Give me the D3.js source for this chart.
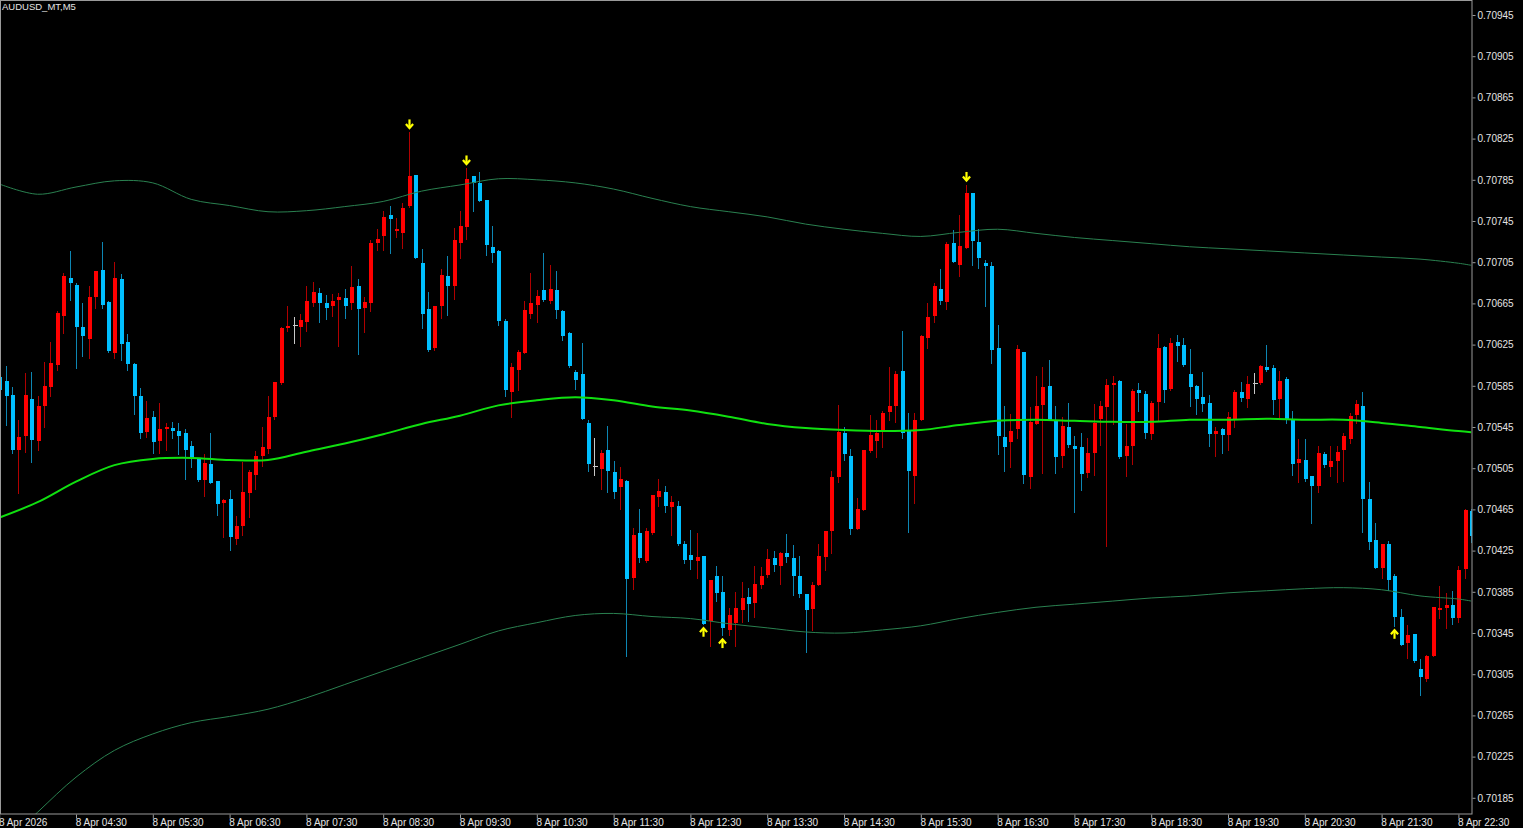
<!DOCTYPE html>
<html><head><meta charset="utf-8">
<script src="https://cdn.jsdelivr.net/npm/d3@7"></script>
<style>html,body{margin:0;padding:0;background:#000;overflow:hidden}svg{display:block}</style>
</head><body>
<svg id="chart" width="1523" height="828"></svg>
<script>
// ---------- DATA (AUDUSD M5, 8 Apr 2026, first bar 03:30, one row per hour) ----------
const symbolTitle = "AUDUSD_MT,M5";
const firstBarTime = "2026-04-08T03:30:00";
const barMinutes = 5;

const open = [
0.70594,0.70590,0.70576,0.70523,0.70536,0.70572,0.70531,0.70565,0.70584,0.70605,0.70653,0.70690,
0.70683,0.70642,0.70630,0.70671,0.70697,0.70666,0.70617,0.70689,0.70628,0.70606,0.70575,0.70540,
0.70555,0.70531,0.70543,0.70544,0.70541,0.70539,0.70527,0.70514,0.70494,0.70509,0.70493,0.70471,
0.70475,0.70436,0.70449,0.70481,0.70498,0.70517,0.70524,0.70555,0.70588,0.70641,0.70644,0.70642,
0.70647,0.70665,0.70675,0.70665,0.70662,0.70668,0.70670,0.70665,0.70682,0.70661,0.70665,0.70724,
0.70730,0.70751,0.70735,0.70733,0.70760,0.70790,0.70704,0.70660,0.70622,0.70662,0.70692,0.70682,
0.70724,0.70739,0.70789,0.70782,0.70765,0.70720,0.70716,0.70648,0.70579,0.70600,0.70617,0.70655,
0.70663,0.70678,0.70667,0.70678,0.70658,0.70636,0.70598,0.70596,0.70549,0.70507,0.70504,0.70523,
0.70501,0.70487,0.70493,0.70398,0.70442,0.70415,0.70442,0.70477,0.70482,0.70467,0.70468,0.70431,
0.70421,0.70415,0.70420,0.70357,0.70400,0.70385,0.70348,0.70355,0.70367,0.70380,0.70374,0.70392,
0.70401,0.70418,0.70410,0.70423,0.70418,0.70400,0.70383,0.70368,0.70392,0.70419,0.70444,0.70496,
0.70539,0.70517,0.70446,0.70464,0.70522,0.70531,0.70540,0.70560,0.70565,0.70599,0.70541,0.70497,
0.70552,0.70631,0.70653,0.70679,0.70666,0.70724,0.70702,0.70719,0.70772,0.70725,0.70704,0.70701,
0.70622,0.70535,0.70530,0.70543,0.70618,0.70496,0.70548,0.70566,0.70585,0.70552,0.70517,0.70545,
0.70527,0.70526,0.70500,0.70520,0.70553,0.70564,0.70586,0.70590,0.70517,0.70527,0.70581,0.70577,
0.70538,0.70569,0.70623,0.70582,0.70628,0.70625,0.70596,0.70585,0.70574,0.70568,0.70538,0.70543,
0.70537,0.70553,0.70579,0.70572,0.70588,0.70588,0.70603,0.70602,0.70572,0.70592,0.70553,0.70510,
0.70513,0.70497,0.70488,0.70519,0.70506,0.70512,0.70523,0.70533,0.70557,0.70565,0.70475,0.70435,
0.70408,0.70431,0.70400,0.70361,0.70335,0.70344,0.70310,0.70300,0.70323,0.70367,0.70369,0.70372,
0.70360,0.70407,0.70463];

const high = [
0.70595,0.70604,0.70584,0.70552,0.70597,0.70598,0.70575,0.70608,0.70628,0.70658,0.70695,0.70716,
0.70685,0.70665,0.70682,0.70696,0.70725,0.70667,0.70705,0.70694,0.70635,0.70607,0.70583,0.70570,
0.70561,0.70568,0.70549,0.70550,0.70549,0.70543,0.70531,0.70515,0.70519,0.70539,0.70493,0.70475,
0.70484,0.70459,0.70511,0.70503,0.70522,0.70545,0.70575,0.70589,0.70642,0.70662,0.70652,0.70655,
0.70682,0.70686,0.70680,0.70673,0.70674,0.70675,0.70679,0.70701,0.70689,0.70671,0.70727,0.70737,
0.70755,0.70760,0.70748,0.70762,0.70831,0.70790,0.70718,0.70676,0.70662,0.70698,0.70711,0.70738,
0.70755,0.70796,0.70789,0.70793,0.70765,0.70740,0.70717,0.70650,0.70607,0.70620,0.70667,0.70695,
0.70678,0.70714,0.70702,0.70696,0.70659,0.70637,0.70600,0.70627,0.70552,0.70534,0.70523,0.70546,
0.70512,0.70506,0.70494,0.70447,0.70465,0.70447,0.70479,0.70495,0.70488,0.70478,0.70473,0.70434,
0.70445,0.70442,0.70420,0.70396,0.70410,0.70400,0.70369,0.70385,0.70395,0.70389,0.70410,0.70409,
0.70427,0.70425,0.70424,0.70441,0.70430,0.70420,0.70383,0.70395,0.70431,0.70444,0.70502,0.70566,
0.70545,0.70524,0.70476,0.70523,0.70557,0.70552,0.70561,0.70603,0.70599,0.70638,0.70559,0.70559,
0.70634,0.70665,0.70685,0.70698,0.70725,0.70736,0.70751,0.70780,0.70772,0.70737,0.70707,0.70705,
0.70644,0.70565,0.70558,0.70625,0.70618,0.70564,0.70595,0.70603,0.70610,0.70565,0.70555,0.70568,
0.70536,0.70539,0.70534,0.70567,0.70570,0.70592,0.70595,0.70591,0.70548,0.70582,0.70588,0.70580,
0.70570,0.70635,0.70624,0.70631,0.70634,0.70631,0.70621,0.70586,0.70598,0.70576,0.70545,0.70544,
0.70560,0.70581,0.70589,0.70595,0.70597,0.70605,0.70625,0.70605,0.70599,0.70594,0.70561,0.70533,
0.70533,0.70497,0.70527,0.70521,0.70527,0.70527,0.70539,0.70559,0.70571,0.70579,0.70492,0.70452,
0.70431,0.70434,0.70402,0.70368,0.70353,0.70344,0.70320,0.70324,0.70370,0.70391,0.70384,0.70386,
0.70410,0.70465,0.70465];

const low = [
0.70579,0.70547,0.70520,0.70481,0.70521,0.70511,0.70523,0.70545,0.70575,0.70600,0.70636,0.70668,
0.70602,0.70614,0.70612,0.70661,0.70661,0.70618,0.70612,0.70610,0.70600,0.70558,0.70534,0.70535,
0.70520,0.70520,0.70523,0.70534,0.70519,0.70495,0.70506,0.70493,0.70478,0.70491,0.70460,0.70438,
0.70426,0.70431,0.70440,0.70458,0.70485,0.70507,0.70520,0.70553,0.70587,0.70638,0.70627,0.70624,
0.70638,0.70662,0.70647,0.70650,0.70653,0.70624,0.70651,0.70660,0.70616,0.70637,0.70658,0.70717,
0.70717,0.70714,0.70729,0.70719,0.70759,0.70709,0.70641,0.70619,0.70620,0.70651,0.70654,0.70669,
0.70709,0.70728,0.70755,0.70764,0.70712,0.70705,0.70644,0.70575,0.70555,0.70581,0.70617,0.70651,
0.70647,0.70667,0.70665,0.70651,0.70629,0.70603,0.70582,0.70553,0.70502,0.70498,0.70485,0.70482,
0.70476,0.70465,0.70323,0.70388,0.70414,0.70414,0.70441,0.70468,0.70462,0.70440,0.70430,0.70413,
0.70407,0.70398,0.70354,0.70332,0.70376,0.70343,0.70343,0.70332,0.70356,0.70357,0.70361,0.70389,
0.70399,0.70405,0.70393,0.70414,0.70382,0.70380,0.70327,0.70348,0.70392,0.70406,0.70423,0.70492,
0.70513,0.70441,0.70446,0.70464,0.70521,0.70516,0.70526,0.70552,0.70550,0.70534,0.70443,0.70471,
0.70552,0.70622,0.70647,0.70664,0.70660,0.70705,0.70692,0.70719,0.70702,0.70699,0.70662,0.70607,
0.70519,0.70502,0.70506,0.70534,0.70491,0.70486,0.70548,0.70500,0.70552,0.70500,0.70506,0.70526,
0.70462,0.70484,0.70496,0.70498,0.70528,0.70429,0.70548,0.70515,0.70497,0.70509,0.70561,0.70534,
0.70533,0.70552,0.70569,0.70581,0.70609,0.70604,0.70565,0.70558,0.70561,0.70527,0.70517,0.70520,
0.70523,0.70545,0.70570,0.70564,0.70578,0.70587,0.70599,0.70558,0.70553,0.70549,0.70498,0.70492,
0.70493,0.70452,0.70482,0.70506,0.70497,0.70492,0.70493,0.70529,0.70549,0.70443,0.70427,0.70408,
0.70398,0.70387,0.70352,0.70333,0.70321,0.70317,0.70285,0.70298,0.70323,0.70360,0.70350,0.70354,
0.70356,0.70398,0.70433];

const close = [
0.70581,0.70575,0.70523,0.70535,0.70576,0.70532,0.70565,0.70585,0.70607,0.70656,0.70692,0.70685,
0.70642,0.70633,0.70671,0.70696,0.70663,0.70619,0.70690,0.70626,0.70606,0.70575,0.70539,0.70554,
0.70530,0.70543,0.70545,0.70541,0.70536,0.70523,0.70514,0.70494,0.70510,0.70491,0.70470,0.70474,
0.70438,0.70449,0.70482,0.70501,0.70517,0.70526,0.70555,0.70589,0.70641,0.70643,0.70644,0.70649,
0.70667,0.70676,0.70665,0.70661,0.70667,0.70671,0.70662,0.70681,0.70660,0.70666,0.70724,0.70728,
0.70749,0.70747,0.70737,0.70758,0.70789,0.70709,0.70655,0.70620,0.70662,0.70693,0.70682,0.70727,
0.70740,0.70786,0.70782,0.70764,0.70722,0.70714,0.70648,0.70581,0.70603,0.70618,0.70659,0.70665,
0.70672,0.70668,0.70679,0.70659,0.70633,0.70604,0.70591,0.70553,0.70509,0.70507,0.70520,0.70502,
0.70482,0.70495,0.70397,0.70440,0.70418,0.70444,0.70479,0.70483,0.70468,0.70472,0.70431,0.70416,
0.70416,0.70419,0.70354,0.70396,0.70384,0.70350,0.70362,0.70369,0.70379,0.70373,0.70393,0.70400,
0.70417,0.70411,0.70423,0.70419,0.70400,0.70383,0.70367,0.70392,0.70420,0.70444,0.70496,0.70540,
0.70519,0.70446,0.70465,0.70523,0.70537,0.70539,0.70559,0.70565,0.70596,0.70539,0.70502,0.70552,
0.70633,0.70652,0.70682,0.70667,0.70723,0.70705,0.70721,0.70772,0.70726,0.70709,0.70701,0.70620,
0.70536,0.70526,0.70541,0.70621,0.70498,0.70550,0.70565,0.70584,0.70552,0.70516,0.70546,0.70528,
0.70524,0.70499,0.70520,0.70549,0.70565,0.70586,0.70588,0.70516,0.70527,0.70580,0.70578,0.70539,
0.70568,0.70622,0.70581,0.70627,0.70624,0.70605,0.70584,0.70572,0.70567,0.70538,0.70541,0.70537,
0.70555,0.70579,0.70573,0.70587,0.70588,0.70604,0.70600,0.70571,0.70590,0.70552,0.70509,0.70514,
0.70495,0.70488,0.70520,0.70508,0.70512,0.70521,0.70536,0.70556,0.70567,0.70475,0.70433,0.70408,
0.70431,0.70396,0.70361,0.70333,0.70343,0.70318,0.70302,0.70323,0.70370,0.70369,0.70372,0.70360,
0.70406,0.70464,0.70439];

// band readings, one every 6 bars (bar offsets in bandBars)
const bandBars = [0,6,12,18,24,30,36,42,48,54,60,66,72,78,84,90,96,102,108,114,120,126,132,138,144,150,156,162,168,174,180,186,192,198,204,210,216,222,228,230];
const bandMiddle = [0.70457,0.70472,0.70492,0.70508,0.70514,0.70515,0.70513,0.70513,0.70521,0.70529,0.70538,0.70548,0.70556,0.70566,0.70571,0.70574,0.70571,0.70565,0.70561,0.70555,0.70548,0.70544,0.70542,0.70541,0.70542,0.70547,0.70551,0.70552,0.70551,0.70550,0.70550,0.70552,0.70552,0.70553,0.70552,0.70552,0.70549,0.70545,0.70541,0.70540];
const bandUpper = [0.70781,0.70771,0.70778,0.70784,0.70782,0.70766,0.70760,0.70754,0.70755,0.70759,0.70764,0.70774,0.70780,0.70786,0.70785,0.70782,0.70776,0.70767,0.70759,0.70754,0.70749,0.70742,0.70737,0.70733,0.70730,0.70734,0.70737,0.70733,0.70729,0.70726,0.70723,0.70720,0.70718,0.70716,0.70714,0.70712,0.70710,0.70708,0.70704,0.70702];
const bandLower = [0.70135,0.70171,0.70205,0.70231,0.70247,0.70258,0.70264,0.70271,0.70282,0.70295,0.70308,0.70321,0.70334,0.70347,0.70355,0.70362,0.70364,0.70361,0.70359,0.70354,0.70350,0.70346,0.70345,0.70348,0.70352,0.70359,0.70365,0.70370,0.70373,0.70376,0.70379,0.70381,0.70384,0.70386,0.70388,0.70389,0.70387,0.70381,0.70378,0.70376];

// signal arrows (bar offsets)
const arrowDownBars = [64, 73, 151];
const arrowUpBars = [110, 113, 218];

// axis labels
const priceTicks = [0.70945,0.70905,0.70865,0.70825,0.70785,0.70745,0.70705,0.70665,0.70625,0.70585,0.70545,0.70505,0.70465,0.70425,0.70385,0.70345,0.70305,0.70265,0.70225,0.70185];
const timeTickClock = ["03:30","04:30","05:30","06:30","07:30","08:30","09:30","10:30","11:30","12:30","13:30","14:30","15:30","16:30","17:30","18:30","19:30","20:30","21:30","22:30"];
const timeTickLabels = ["8 Apr 2026","8 Apr 04:30","8 Apr 05:30","8 Apr 06:30","8 Apr 07:30","8 Apr 08:30","8 Apr 09:30","8 Apr 10:30","8 Apr 11:30","8 Apr 12:30","8 Apr 13:30","8 Apr 14:30","8 Apr 15:30","8 Apr 16:30","8 Apr 17:30","8 Apr 18:30","8 Apr 19:30","8 Apr 20:30","8 Apr 21:30","8 Apr 22:30"];

// ---------- DRAW ----------
const svg = d3.select("#chart");
const PR = 1472, PB = 814;
const FONT = "'Liberation Sans', Arial, sans-serif";
const t0 = new Date(firstBarTime);
const barTime = k => new Date(t0.getTime() + k * barMinutes * 60000);
const times = open.map((_, k) => barTime(k));

const x = d3.scaleTime().domain([times[0], times[times.length - 1]]).range([-0.8, 1471.2]);
const y = d3.scaleLinear().domain([0.70185, 0.70945]).range([797.8, 15]);

svg.append("rect").attr("width", 1523).attr("height", 828).attr("fill", "#000");

svg.append("defs").append("clipPath").attr("id", "plotClip")
  .append("rect").attr("x", 0).attr("y", 0).attr("width", PR).attr("height", PB);
const plot = svg.append("g").attr("clip-path", "url(#plotClip)");

const bars = open.map((o, k) => ({ t: times[k], o, h: high[k], l: low[k], c: close[k] }));
const UP = "#ff0000", DN = "#00bfff", UPW = "#b00000", DNW = "#0d86b3", DOJI = "#c8c8c8";
const colorOf = d => d.c > d.o ? UP : (d.c < d.o ? DN : DOJI);
const wickOf = d => d.c > d.o ? UPW : (d.c < d.o ? DNW : DOJI);

const cg = plot.append("g").attr("shape-rendering", "crispEdges");
const candle = cg.selectAll("g.c").data(bars).join("g").attr("class", "c");
candle.append("line")
  .attr("x1", d => Math.round(x(d.t)) + 0.5).attr("x2", d => Math.round(x(d.t)) + 0.5)
  .attr("y1", d => Math.round(y(d.h))).attr("y2", d => Math.round(y(d.l)) + 1)
  .attr("stroke", wickOf).attr("stroke-width", 1);
candle.append("rect")
  .attr("x", d => Math.round(x(d.t)) - 1.5)
  .attr("width", d => d.c === d.o ? 5 : 4)
  .attr("y", d => Math.round(y(Math.max(d.o, d.c))))
  .attr("height", d => Math.max(1, Math.round(y(Math.min(d.o, d.c))) - Math.round(y(Math.max(d.o, d.c)))))
  .attr("fill", colorOf);

// bands
const bandPts = arr => arr.map((v, j) => [x(barTime(bandBars[j])), y(v)]);
const lineGen = d3.line().curve(d3.curveCatmullRom.alpha(0.5));
plot.append("path").attr("d", lineGen(bandPts(bandUpper))).attr("fill", "none").attr("stroke", "#2a8150").attr("stroke-width", 1);
plot.append("path").attr("d", lineGen(bandPts(bandLower))).attr("fill", "none").attr("stroke", "#2a8150").attr("stroke-width", 1);
plot.append("path").attr("d", lineGen(bandPts(bandMiddle))).attr("fill", "none").attr("stroke", "#10e010").attr("stroke-width", 2);

// arrows
const arrowG = plot.append("g").attr("fill", "none").attr("stroke", "#ffff00").attr("stroke-width", 2.2);
arrowDownBars.forEach(k => {
  const cx = Math.round(x(times[k])) + 0.5, cy = y(high[k]) - 8;
  const g = arrowG.append("g").attr("transform", `translate(${cx},${cy})`);
  g.append("line").attr("x1", 0).attr("x2", 0).attr("y1", -5).attr("y2", 3);
  g.append("polyline").attr("points", "-3.6,-0.4 0,3.6 3.6,-0.4");
});
arrowUpBars.forEach(k => {
  const cx = Math.round(x(times[k])) + 0.5, cy = y(low[k]) + 8;
  const g = arrowG.append("g").attr("transform", `translate(${cx},${cy})`);
  g.append("line").attr("x1", 0).attr("x2", 0).attr("y1", 5).attr("y2", -3);
  g.append("polyline").attr("points", "-3.6,0.4 0,-3.6 3.6,0.4");
});

// frame
svg.append("rect").attr("x", 0.5).attr("y", 0.5).attr("width", PR - 0.5).attr("height", PB - 0.5)
  .attr("fill", "none").attr("stroke", "#9a9a9a").attr("stroke-width", 1);

// price axis
const yAxis = d3.axisRight(y).tickValues(priceTicks).tickSize(3).tickPadding(2).tickFormat(d => d.toFixed(5));
const yg = svg.append("g").attr("transform", `translate(${PR + 0.5},0)`).call(yAxis);
yg.select(".domain").remove();
yg.selectAll("line").attr("stroke", "#9a9a9a");
yg.selectAll("text").attr("fill", "#e4e4e4").style("font-family", FONT).style("font-size", "10px");

// time axis
const tickTimes = timeTickClock.map(s => new Date("2026-04-08T" + s + ":00"));
const xAxis = d3.axisBottom(x).tickValues(tickTimes).tickSize(4).tickFormat((d, i) => timeTickLabels[i]);
const xg = svg.append("g").attr("transform", `translate(0,${PB + 0.5})`).call(xAxis);
xg.select(".domain").remove();
xg.selectAll("line").attr("stroke", "#9a9a9a");
xg.selectAll("text").attr("text-anchor", "start").attr("x", -0.8).attr("y", 4.5)
  .attr("fill", "#e4e4e4").style("font-family", FONT).style("font-size", "10px");

// title
svg.append("text").attr("x", 2).attr("y", 10).text(symbolTitle)
  .attr("fill", "#e4e4e4").style("font-family", FONT).style("font-size", "9.5px");
</script>
</body></html>
